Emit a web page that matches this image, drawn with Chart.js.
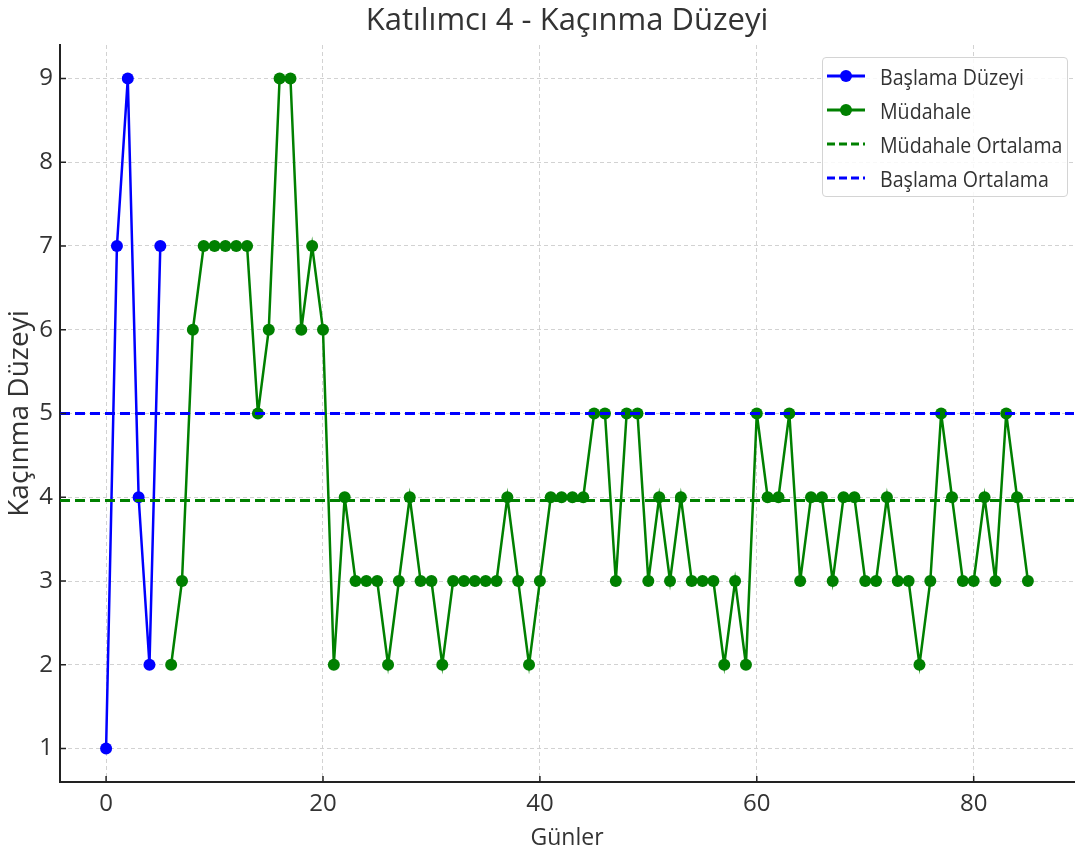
<!DOCTYPE html>
<html lang="tr">
<head>
<meta charset="utf-8">
<title>Katılımcı 4 - Kaçınma Düzeyi</title>
<script src="https://cdn.jsdelivr.net/npm/chart.js@4.4.0/dist/chart.umd.min.js"></script>
<style>
  html, body { margin: 0; padding: 0; background: #fff; }
  #wrap { position: relative; width: 1080px; height: 856px; }
  .legend {
    position: absolute; left: 822px; top: 57px; width: 246px; height: 140px;
    box-sizing: border-box; border: 1px solid #d4d4d4; border-radius: 4px;
    background: rgba(255, 255, 255, 0.85); padding: 1px 0 0 4px;
    font-family: 'Open Sans', sans-serif; font-size: 19.6px; color: #333;
  }
  .legend .row { display: flex; align-items: center; height: 34px; white-space: nowrap; }
  .legend svg { margin-right: 15px; flex: none; }
  .legend span { display: inline-block; transform: scaleY(1.15); transform-origin: 50% 55%; }
</style>
</head>
<body>
<div id="wrap">
  <canvas id="chart" width="1080" height="856"></canvas>
  <div class="legend" id="legend"></div>
</div>
<script>
// data
const baselineDays = [0, 1, 2, 3, 4, 5];
const baselineValues = [1, 7, 9, 4, 2, 7];

const interventionDays = [6, 7, 8, 9, 10, 11, 12, 13, 14, 15,
  16, 17, 18, 19, 20, 21, 22, 23, 24, 25,
  26, 27, 28, 29, 30, 31, 32, 33, 34, 35,
  36, 37, 38, 39, 40, 41, 42, 43, 44, 45,
  46, 47, 48, 49, 50, 51, 52, 53, 54, 55,
  56, 57, 58, 59, 60, 61, 62, 63, 64, 65,
  66, 67, 68, 69, 70, 71, 72, 73, 74, 75,
  76, 77, 78, 79, 80, 81, 82, 83, 84, 85];
const interventionValues = [2, 3, 6, 7, 7, 7, 7, 7, 5, 6,
  9, 9, 6, 7, 6, 2, 4, 3, 3, 3,
  2, 3, 4, 3, 3, 2, 3, 3, 3, 3,
  3, 4, 3, 2, 3, 4, 4, 4, 4, 5,
  5, 3, 5, 5, 3, 4, 3, 4, 3, 3,
  3, 2, 3, 2, 5, 4, 4, 5, 3, 4,
  4, 3, 4, 4, 3, 3, 4, 3, 3, 2,
  3, 5, 4, 3, 3, 4, 3, 5, 4, 3];

const xTicks = [0, 20, 40, 60, 80];
const yTicks = [1, 2, 3, 4, 5, 6, 7, 8, 9];
const xMin = -4.25, xMax = 89.25;
const yMin = 0.6, yMax = 9.4;

const BLUE = '#0000ff';
const GREEN = '#008000';
const FONT = "'Open Sans', sans-serif";
const TEXT = '#333333';

const mean = arr => arr.reduce((a, b) => a + b, 0) / arr.length;
const baselineMean = mean(baselineValues);
const interventionMean = mean(interventionValues);

const toPoints = (xs, ys) => xs.map((x, i) => ({x: x, y: ys[i]}));
const flatLine = v => [{x: xMin, y: v}, {x: xMax, y: v}];

// matplotlib style ticks pointing into the plot
const inwardTicks = {
  id: 'inwardTicks',
  afterDraw(chart) {
    const {ctx, chartArea: a, scales: {x, y}} = chart;
    ctx.save();
    ctx.strokeStyle = '#222';
    ctx.lineWidth = 1.5;
    ctx.beginPath();
    xTicks.forEach(v => {
      const px = x.getPixelForValue(v);
      ctx.moveTo(px, a.bottom);
      ctx.lineTo(px, a.bottom - 6);
    });
    yTicks.forEach(v => {
      const py = y.getPixelForValue(v);
      ctx.moveTo(a.left, py);
      ctx.lineTo(a.left + 6, py);
    });
    ctx.stroke();
    ctx.restore();
  }
};

const datasets = [
  {
    label: 'Başlama Düzeyi',
    data: toPoints(baselineDays, baselineValues),
    borderColor: BLUE, backgroundColor: BLUE,
    borderWidth: 2.5, pointRadius: 6, pointBorderWidth: 0, order: 1
  },
  {
    label: 'Müdahale',
    data: toPoints(interventionDays, interventionValues),
    borderColor: GREEN, backgroundColor: GREEN,
    borderWidth: 2.5, pointRadius: 6, pointBorderWidth: 0, order: 1
  },
  {
    label: 'Müdahale Ortalama',
    data: flatLine(interventionMean),
    borderColor: GREEN, borderWidth: 3, borderDash: [10, 5],
    pointRadius: 0, order: 0
  },
  {
    label: 'Başlama Ortalama',
    data: flatLine(baselineMean),
    borderColor: BLUE, borderWidth: 3, borderDash: [10, 5],
    pointRadius: 0, order: 0
  }
];

new Chart('chart', {
  type: 'line',
  data: {datasets: datasets},
  options: {
    responsive: false,
    animation: false,
    devicePixelRatio: 1,
    layout: {padding: {top: 0, right: 4, bottom: 0, left: 0}},
    plugins: {
      legend: {display: false},
      tooltip: {enabled: false},
      title: {
        display: true,
        text: 'Katılımcı 4 - Kaçınma Düzeyi',
        fullSize: false,
        color: TEXT,
        font: {family: FONT, size: 31, weight: 'normal'},
        padding: {top: 3, bottom: 4.8}
      }
    },
    scales: {
      x: {
        type: 'linear', min: xMin, max: xMax,
        afterBuildTicks: s => { s.ticks = xTicks.map(v => ({value: v})); },
        afterFit: s => { s.height = 74; },
        ticks: {color: TEXT, font: {family: FONT, size: 24}, padding: 8},
        grid: {color: '#d2d2d2', lineWidth: 1, drawTicks: false},
        border: {color: '#222', width: 2, dash: [4, 3]},
        title: {display: true, text: 'Günler', color: TEXT,
          font: {family: FONT, size: 23}, padding: {top: 0, bottom: 4}}
      },
      y: {
        type: 'linear', min: yMin, max: yMax,
        afterBuildTicks: s => { s.ticks = yTicks.map(v => ({value: v})); },
        afterFit: s => { s.width = 60; },
        ticks: {color: TEXT, font: {family: FONT, size: 24}, padding: 7},
        grid: {color: '#d2d2d2', lineWidth: 1, drawTicks: false},
        border: {color: '#222', width: 2, dash: [4, 3]},
        title: {display: true, text: 'Kaçınma Düzeyi', color: TEXT,
          font: {family: FONT, size: 28}, padding: {top: 3, bottom: 0}}
      }
    }
  },
  plugins: [inwardTicks]
});

// legend box, built from the datasets
const legendEl = document.getElementById('legend');
datasets.forEach(ds => {
  const dashed = !!ds.borderDash;
  const row = document.createElement('div');
  row.className = 'row';
  row.innerHTML =
    `<svg width="38" height="16" viewBox="0 0 38 16">
       <line x1="0" y1="8" x2="38" y2="8" stroke="${ds.borderColor}" stroke-width="3"
         ${dashed ? 'stroke-dasharray="8 4"' : ''}/>
       ${dashed ? '' : `<circle cx="19" cy="8" r="6" fill="${ds.borderColor}"/>`}
     </svg><span>${ds.label}</span>`;
  legendEl.appendChild(row);
});
</script>
</body>
</html>
